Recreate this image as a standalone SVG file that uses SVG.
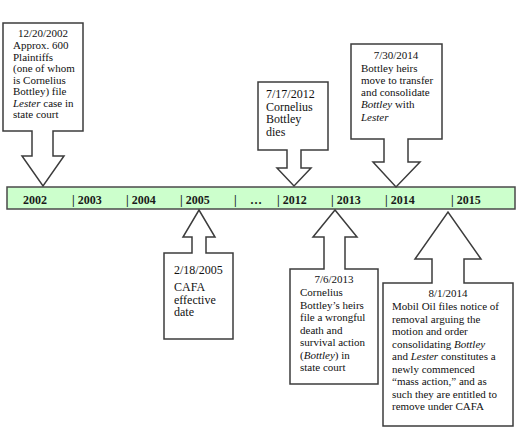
<svg xmlns="http://www.w3.org/2000/svg" width="530" height="442" viewBox="0 0 530 442">
<style>
.bg{fill:#ffffff}
.call{fill:#ffffff;stroke:#3c3c3c;stroke-width:1.5;stroke-linejoin:miter}
.bar{fill:#ccffcc;stroke:#4a4a4a;stroke-width:1.5}
.t{font-family:"Liberation Serif","Times New Roman",serif;font-size:11px;fill:#111111}
.t12{font-size:12px}
.c{text-anchor:middle}
.yr{font-family:"Liberation Serif","Times New Roman",serif;font-size:12px;font-weight:bold;fill:#1a1a1a}
.i{font-style:italic}
</style>
<rect class="bg" x="0" y="0" width="530" height="442"/>

<g id="timeline">
<rect class="bar" x="7" y="187" width="508" height="22"/>
<text class="yr" x="23" y="204">2002</text>
<text class="yr" x="72" y="204">| 2003</text>
<text class="yr" x="126" y="204">| 2004</text>
<text class="yr" x="180" y="204">| 2005</text>
<text class="yr" x="234" y="204">|</text>
<text class="yr" x="250" y="204">…</text>
<text class="yr" x="277" y="204">| 2012</text>
<text class="yr" x="331" y="204">| 2013</text>
<text class="yr" x="385" y="204">| 2014</text>
<text class="yr" x="451" y="204">| 2015</text>
</g>

<g id="event-2002">
<path class="call" d="M3,23 H83 V131 H53 V156 H64 L43,186 L22,156 H32 V131 H3 Z"/>
<text class="t c" x="43" y="37">12/20/2002</text>
<text class="t" x="13" y="49">Approx. 600</text>
<text class="t" x="13" y="60.5">Plaintiffs</text>
<text class="t" x="13" y="72">(one of whom</text>
<text class="t" x="13" y="83.5">is Cornelius</text>
<text class="t" x="13" y="95">Bottley) file</text>
<text class="t" x="13" y="106.5"><tspan class="i">Lester</tspan> case in</text>
<text class="t" x="13" y="118">state court</text>
</g>

<g id="event-2012">
<path class="call" d="M258,82 H328 V150 H301 V168 H311 L294,186 L277,168 H287 V150 H258 Z"/>
<text class="t t12" x="266" y="98">7/17/2012</text>
<text class="t t12" x="266" y="110.5">Cornelius</text>
<text class="t t12" x="266" y="123">Bottley</text>
<text class="t t12" x="266" y="135.5">dies</text>
</g>

<g id="event-2014-transfer">
<path class="call" d="M351,44 H442 V139 H408 V162 H420 L396,187 L373,162 H384 V139 H351 Z"/>
<text class="t c" x="396" y="59">7/30/2014</text>
<text class="t" x="361" y="72">Bottley heirs</text>
<text class="t" x="361" y="84">move to transfer</text>
<text class="t" x="361" y="96">and consolidate</text>
<text class="t" x="361" y="108"><tspan class="i">Bottley</tspan> with</text>
<text class="t i" x="361" y="120.5">Lester</text>
</g>

<g id="event-2005">
<path class="call" d="M164,253 V339 H233 V253 H206 V237 H215 L199,210 L183,237 H192 V253 Z"/>
<text class="t t12" x="174" y="274">2/18/2005</text>
<text class="t t12" x="174" y="291">CAFA</text>
<text class="t t12" x="174" y="303.5">effective</text>
<text class="t t12" x="174" y="316">date</text>
</g>

<g id="event-2013">
<path class="call" d="M290,269 V384 H378 V269 H345 V237 H357 L335,210 L313,237 H324 V269 Z"/>
<text class="t c" x="334" y="283">7/6/2013</text>
<text class="t" x="300" y="296">Cornelius</text>
<text class="t" x="300" y="308.5">Bottley’s heirs</text>
<text class="t" x="300" y="321">file a wrongful</text>
<text class="t" x="300" y="333.5">death and</text>
<text class="t" x="300" y="346">survival action</text>
<text class="t" x="300" y="358.5">(<tspan class="i">Bottley</tspan>) in</text>
<text class="t" x="300" y="371">state court</text>
</g>

<g id="event-2014-removal">
<path class="call" d="M383,283 V426 H513 V283 H464 V259 H481 L448,212 L415,259 H432 V283 Z"/>
<text class="t c" x="448" y="297">8/1/2014</text>
<text class="t" x="392" y="310">Mobil Oil files notice of</text>
<text class="t" x="392" y="322.5">removal arguing the</text>
<text class="t" x="392" y="335">motion and order</text>
<text class="t" x="392" y="347.5">consolidating <tspan class="i">Bottley</tspan></text>
<text class="t" x="392" y="360">and <tspan class="i">Lester</tspan> constitutes a</text>
<text class="t" x="392" y="372.5">newly commenced</text>
<text class="t" x="392" y="385">“mass action,” and as</text>
<text class="t" x="392" y="397.5">such they are entitled to</text>
<text class="t" x="392" y="410">remove under CAFA</text>
</g>

<g id="connectors"></g>
</svg>
